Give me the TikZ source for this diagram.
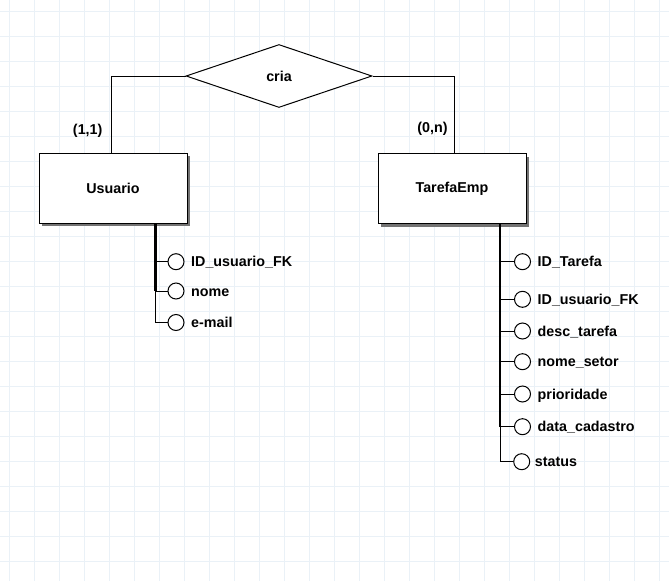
\documentclass[tikz,border=0pt]{standalone}
\usepackage{fontspec}
\setmainfont{Liberation Sans}
\usetikzlibrary{shapes.geometric,shadows}
\definecolor{gridblue}{RGB}{234,241,247}
\newcommand{\erfont}{\fontsize{14.3pt}{16pt}\selectfont\bfseries}

\begin{document}
\begin{tikzpicture}[x=1pt,y=-1pt,
    ent/.style={draw, line width=1pt, fill=white, minimum width=148pt, minimum height=70pt, font=\erfont,
      drop shadow={shadow xshift=3pt, shadow yshift=-3pt, fill=black!55, opacity=1}},
    rel/.style={draw, diamond, line width=1pt, fill=white, aspect=2.95, minimum width=186pt, minimum height=63pt, inner sep=0pt, font=\erfont},
    attr/.style={draw, circle, line width=1pt, fill=white, minimum size=16pt, inner sep=0pt},
    lbl/.style={font=\erfont, inner sep=0pt, text height=10pt, text depth=0pt, label distance=6.5pt},
    trunk/.style={line width=2.6pt},
    link/.style={line width=1pt}]
  \useasboundingbox (0,0) rectangle (669,581);
  % grid
  \foreach \x in {9.5,34.5,...,659.5}
    \draw[gridblue, line width=1pt] (\x,0) -- (\x,581);
  \foreach \y in {11.5,36.5,...,561.5}
    \draw[gridblue, line width=1pt] (0,\y) -- (669,\y);

  % relationship and entities
  \node[rel] (cria) at (279,76) {cria};
  \node[ent] (usr) at (113,188.3) {Usuario};
  \node[ent] (tar) at (452,188.6) {TarefaEmp};
  \node[lbl] (card1) at (87.7,129.5) {(1,1)};
  \node[lbl] (card2) at (432.5,127.5) {(0,n)};
  \draw[link] (cria.west) -| ([xshift=-1.5pt]usr.north);
  \draw[link] (cria.east) -| ([xshift=2pt]tar.north);

  % Usuario attributes
  \coordinate (ut) at ([xshift=42.5pt]usr.south);
  \node[attr, label={[lbl]right:ID\_usuario\_FK}] (u1) at (176,261.7) {};
  \node[attr, label={[lbl]right:nome}] (u2) at (176,291) {};
  \node[attr, label={[lbl]right:e-mail}] (u3) at (176,322.5) {};
  \draw[trunk] (ut) -- (ut |- u2);
  \foreach \a in {u1,u2,u3}
    \draw[link] (ut) |- (\a.west);

  % TarefaEmp attributes
  \coordinate (tt) at ([xshift=48pt]tar.south);
  \node[attr, label={[lbl]right:ID\_Tarefa}] (t1) at (522.5,261.7) {};
  \node[attr, label={[lbl]right:ID\_usuario\_FK}] (t2) at (522.5,299.3) {};
  \node[attr, label={[lbl]right:desc\_tarefa}] (t3) at (522.5,331) {};
  \node[attr, label={[lbl]right:nome\_setor}] (t4) at (522.5,361.7) {};
  \node[attr, label={[lbl]right:prioridade}] (t5) at (522.5,394) {};
  \node[attr, label={[lbl]right:data\_cadastro}] (t6) at (522.5,426.7) {};
  \node[attr, label={[lbl, label distance=4.5pt]right:status}] (t7) at (521.7,461.7) {};
  \draw[trunk] (tt) -- (tt |- t6);
  \foreach \a in {t1,t2,t3,t4,t5,t6,t7}
    \draw[link] (tt) |- (\a.west);
\end{tikzpicture}
\end{document}
